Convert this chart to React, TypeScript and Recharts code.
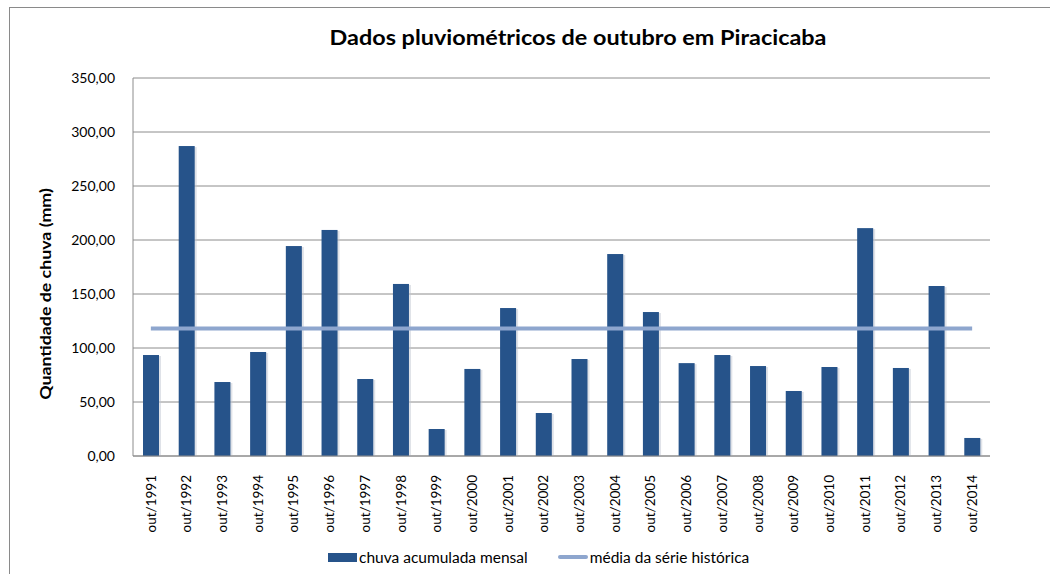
import { Bar, ComposedChart, Line, XAxis, YAxis, CartesianGrid, Legend } from 'recharts';

const categories = [
    'out/1991', 'out/1992', 'out/1993', 'out/1994', 'out/1995', 'out/1996',
    'out/1997', 'out/1998', 'out/1999', 'out/2000', 'out/2001', 'out/2002',
    'out/2003', 'out/2004', 'out/2005', 'out/2006', 'out/2007', 'out/2008',
    'out/2009', 'out/2010', 'out/2011', 'out/2012', 'out/2013', 'out/2014',
];

const chuvaMensal = [
    93.5, 287.0, 68.5, 96.3, 194.4, 209.3,
    71.3, 159.3, 25.0, 80.6, 137.0, 39.8,
    89.8, 187.0, 133.3, 86.0, 93.5, 83.3,
    60.2, 82.4, 211.0, 81.5, 157.4, 16.7,
];

const mediaHistorica = 118.0;

const yTicks = [0, 50, 100, 150, 200, 250, 300, 350];

const data = categories.map((mes, i) => ({
    mes,
    chuva: chuvaMensal[i],
    media: mediaHistorica,
}));

const FONT = 'Lato, "Liberation Sans", sans-serif';
const BAR_COLOR = '#26538a';
const LINE_COLOR = '#8ea6ce';

const formatValue = (v: number) => v.toFixed(2).replace('.', ',');

function XTick({ x, y, payload }: any) {
    return (
        <text
            x={x}
            y={y}
            transform={`rotate(-90, ${x}, ${y})`}
            dx={-11}
            dy="0.35em"
            textAnchor="end"
            fontSize={13.5}
            fontFamily={FONT}
            fill="#000"
        >
            {payload.value}
        </text>
    );
}

function ShadowBar({ x, y, width, height }: any) {
    return (
        <g>
            <rect x={x + 2} y={y + 1} width={width} height={height} fill="#bfc6d2" opacity={0.5} />
            <rect x={x} y={y} width={width} height={height} fill={BAR_COLOR} />
        </g>
    );
}

function LegendContent() {
    return (
        <div
            style={{
                display: 'flex',
                justifyContent: 'flex-start',
                alignItems: 'center',
                fontFamily: FONT,
                fontSize: 15.5,
                color: '#000',
                paddingLeft: 328,
            }}
        >
            <span style={{ display: 'inline-block', width: 29, height: 9, background: BAR_COLOR, marginRight: 2 }} />
            <span>chuva acumulada mensal</span>
            <span
                style={{
                    display: 'inline-block',
                    width: 30,
                    height: 4,
                    borderRadius: 2,
                    background: LINE_COLOR,
                    marginLeft: 30,
                    marginRight: 2,
                }}
            />
            <span>média da série histórica</span>
        </div>
    );
}

export default function App() {
    return (
        <div
            style={{
                position: 'absolute',
                left: 0,
                top: 0,
                width: 1050,
                height: 574,
                background: '#fff',
                overflow: 'hidden',
            }}
        >
            <div
                style={{
                    position: 'absolute',
                    left: 9,
                    top: 7,
                    width: 1100,
                    height: 600,
                    borderLeft: '1px solid #8a8a8a',
                    borderTop: '1px solid #8a8a8a',
                }}
            />
            <div
                style={{
                    position: 'absolute',
                    left: 578,
                    top: 37,
                    transform: 'translate(-50%, -50%) scaleX(1.17)',
                    whiteSpace: 'nowrap',
                    fontFamily: FONT,
                    fontWeight: 700,
                    fontSize: 20,
                    color: '#000',
                }}
            >
                Dados pluviométricos de outubro em Piracicaba
            </div>
            <div
                style={{
                    position: 'absolute',
                    left: 44,
                    top: 294,
                    transform: 'translate(-50%, -50%) rotate(-90deg) scaleX(1.11)',
                    whiteSpace: 'nowrap',
                    fontFamily: FONT,
                    fontWeight: 700,
                    fontSize: 16,
                    color: '#000',
                }}
            >
                Quantidade de chuva (mm)
            </div>
            <ComposedChart
                width={1050}
                height={574}
                data={data}
                margin={{ top: 78, right: 60, bottom: 8, left: 0 }}
                barCategoryGap="28%"
                style={{ position: 'absolute', left: 0, top: 0 }}
            >
                <CartesianGrid vertical={false} stroke="#8c8c8c" />
                <XAxis
                    dataKey="mes"
                    interval={0}
                    height={92}
                    tick={<XTick />}
                    tickLine={false}
                    axisLine={{ stroke: '#8c8c8c' }}
                />
                <YAxis
                    domain={[0, 350]}
                    ticks={yTicks}
                    width={133}
                    tickFormatter={formatValue}
                    tickLine={false}
                    axisLine={{ stroke: '#8c8c8c' }}
                    tick={{ fontSize: 14, fontFamily: FONT, fill: '#000' }}
                    tickMargin={12}
                />
                <Legend verticalAlign="bottom" content={<LegendContent />} />
                <Bar
                    dataKey="chuva"
                    name="chuva acumulada mensal"
                    fill={BAR_COLOR}
                    shape={<ShadowBar />}
                    isAnimationActive={false}
                />
                <Line
                    dataKey="media"
                    name="média da série histórica"
                    stroke={LINE_COLOR}
                    strokeWidth={4}
                    dot={false}
                    activeDot={false}
                    isAnimationActive={false}
                />
            </ComposedChart>
        </div>
    );
}
